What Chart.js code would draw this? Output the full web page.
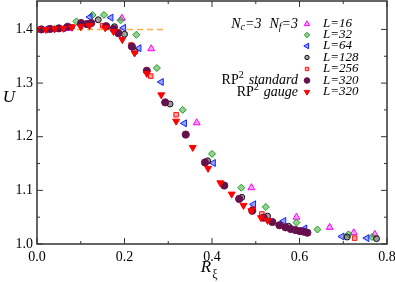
<!DOCTYPE html>
<html>
<head>
<meta charset="utf-8">
<script src="https://cdn.jsdelivr.net/npm/chart.js@4/dist/chart.umd.min.js"></script>
<style>
html,body{margin:0;padding:0;background:#fff;}
</style>
</head>
<body>
<canvas id="c" width="395" height="282"></canvas>
<script>
// values
const l16X = [0.03, 0.07, 0.12, 0.194, 0.261, 0.365, 0.490, 0.593, 0.669, 0.724, 0.772];
const l16U = [1.400, 1.402, 1.410, 1.421, 1.364, 1.226, 1.105, 1.050, 1.031, 1.021, 1.018];

const l32X = [0.04, 0.09, 0.127, 0.153, 0.191, 0.227, 0.274, 0.333, 0.400, 0.467, 0.523, 0.593, 0.641, 0.712, 0.766];
const l32U = [1.401, 1.415, 1.427, 1.427, 1.417, 1.390, 1.328, 1.250, 1.168, 1.105, 1.069, 1.040, 1.027, 1.018, 1.013];

const l64X = [0.02, 0.06, 0.10, 0.121, 0.169, 0.198, 0.233, 0.284, 0.337, 0.403, 0.495, 0.564, 0.612, 0.697, 0.754];
const l64U = [1.400, 1.402, 1.408, 1.423, 1.422, 1.403, 1.365, 1.302, 1.225, 1.151, 1.074, 1.043, 1.029, 1.014, 1.011];

const l128X = [0.01, 0.05, 0.10, 0.140, 0.177, 0.200, 0.224, 0.304, 0.390, 0.468, 0.527, 0.575, 0.709, 0.776];
const l128U = [1.400, 1.402, 1.410, 1.418, 1.405, 1.391, 1.359, 1.261, 1.155, 1.087, 1.052, 1.033, 1.013, 1.010];

const l256X = [0.0, 0.04, 0.08, 0.150, 0.215, 0.260, 0.318, 0.493, 0.514, 0.726];
const l256U = [1.400, 1.401, 1.405, 1.407, 1.371, 1.313, 1.241, 1.065, 1.056, 1.011];

const stdX = [0.01, 0.03, 0.05, 0.07, 0.101, 0.114, 0.124, 0.158, 0.175, 0.186, 0.217, 0.251, 0.293, 0.340, 0.384, 0.428, 0.462, 0.492, 0.518, 0.538, 0.554, 0.568, 0.580, 0.591, 0.601, 0.610, 0.618];
const stdU = [1.400, 1.401, 1.402, 1.405, 1.412, 1.410, 1.412, 1.406, 1.401, 1.393, 1.368, 1.323, 1.264, 1.204, 1.152, 1.109, 1.084, 1.062, 1.049, 1.041, 1.035, 1.031, 1.028, 1.026, 1.024, 1.023, 1.021];

const gaugeX = [0.0, 0.02, 0.04, 0.06, 0.08, 0.10, 0.12, 0.156, 0.175, 0.195, 0.223, 0.251, 0.284, 0.318, 0.356, 0.391, 0.419, 0.445, 0.472, 0.490, 0.512, 0.527];
const gaugeU = [1.400, 1.400, 1.401, 1.402, 1.404, 1.405, 1.407, 1.403, 1.396, 1.381, 1.356, 1.318, 1.278, 1.229, 1.180, 1.141, 1.114, 1.093, 1.072, 1.062, 1.049, 1.044];

const refX = [0, 0.295];
const refU = [1.4, 1.4];

const xTicks = [0, 0.2, 0.4, 0.6, 0.8];
const xMinor = [0.1, 0.3, 0.5, 0.7];
const yTicks = [1.0, 1.1, 1.2, 1.3, 1.4];
const yMinor = [1.05, 1.15, 1.25, 1.35];

const serif = '"Liberation Serif", "DejaVu Serif", serif';

function pts(xs, ys){
	var out = [];
	for(var i=0; i<xs.length; i++){
		out.push({x: xs[i], y: ys[i]});
	}
	return out;
}

const series = [
	{label: 'L=16',  x: l16X,  y: l16U,  style: 'triangle', rot: 0,   r: 4,   fill: 'rgba(255,80,255,0.55)', line: '#ff00ff'},
	{label: 'L=32',  x: l32X,  y: l32U,  style: 'rectRot',  rot: 0,   r: 3.5, fill: 'rgba(60,170,60,0.55)',  line: '#1e9a1e'},
	{label: 'L=64',  x: l64X,  y: l64U,  style: 'triangle', rot: -90, r: 4,   fill: 'rgba(70,90,255,0.55)',  line: '#1020ff'},
	{label: 'L=128', x: l128X, y: l128U, style: 'circle',   rot: 0,   r: 3,   fill: 'rgba(80,80,80,0.55)',   line: '#111111'},
	{label: 'L=256', x: l256X, y: l256U, style: 'rect',     rot: 0,   r: 3.2, fill: 'rgba(255,90,90,0.55)',  line: '#ff1010'},
	{label: 'L=320', x: stdX,  y: stdU,  style: 'circle',   rot: 0,   r: 3.6, fill: '#66104e',               line: '#66104e'},
	{label: 'L=320', x: gaugeX,y: gaugeU,style: 'triangle', rot: 180, r: 4,   fill: '#ff0000',               line: '#ff0000'}
];

const datasets = [{
	type: 'line',
	data: pts(refX, refU),
	borderColor: '#fbb040',
	borderWidth: 1.5,
	borderDash: [6, 4],
	pointRadius: 0,
	fill: false,
	order: 10
}];
series.forEach(function(s, i){
	datasets.push({
		type: 'scatter',
		label: s.label,
		data: pts(s.x, s.y),
		pointStyle: s.style,
		rotation: s.rot,
		pointRadius: s.r,
		pointBackgroundColor: s.fill,
		pointBorderColor: s.line,
		pointBorderWidth: 1,
		order: 7 - i
	});
});

// frame, inward ticks, titles, legend text
const decor = {
	id: 'decor',
	afterDatasetsDraw: function(chart){
		const ctx = chart.ctx;
		const a = chart.chartArea;
		const xs = chart.scales.x, ys = chart.scales.y;
		ctx.save();
		ctx.strokeStyle = '#333';
		ctx.lineWidth = 1.5;
		ctx.strokeRect(a.left, a.top, a.right - a.left, a.bottom - a.top);
		ctx.lineWidth = 1;
		function tickX(v, len){
			var p = xs.getPixelForValue(v);
			ctx.beginPath();
			ctx.moveTo(p, a.bottom); ctx.lineTo(p, a.bottom - len);
			ctx.moveTo(p, a.top); ctx.lineTo(p, a.top + len);
			ctx.stroke();
		}
		function tickY(v, len){
			var p = ys.getPixelForValue(v);
			ctx.beginPath();
			ctx.moveTo(a.left, p); ctx.lineTo(a.left + len, p);
			ctx.moveTo(a.right, p); ctx.lineTo(a.right - len, p);
			ctx.stroke();
		}
		xTicks.forEach(function(v){ tickX(v, 6); });
		xMinor.forEach(function(v){ tickX(v, 3); });
		yTicks.forEach(function(v){ tickY(v, 6); });
		yMinor.forEach(function(v){ tickY(v, 3); });

		// axis titles
		ctx.fillStyle = '#000';
		ctx.textBaseline = 'middle';
		ctx.textAlign = 'center';
		ctx.font = 'italic 17px ' + serif;
		ctx.fillText('U', 9, 98);
		ctx.fillText('R', 206, 268);
		ctx.font = '12px ' + serif;
		ctx.fillText('ξ', 215, 275);

		// legend
		const rowY = [24, 35, 46, 57.5, 69, 80.5, 92];
		const symX = 307;
		ctx.textAlign = 'left';
		series.forEach(function(s, i){
			ctx.fillStyle = s.fill; ctx.strokeStyle = s.line; ctx.lineWidth = 1;
			Chart.helpers.drawPoint(ctx, {
				pointStyle: s.style, rotation: s.rot, radius: s.r - 0.8,
				borderWidth: 1
			}, symX, rowY[i]);
			ctx.fillStyle = '#000';
			ctx.font = 'italic 13px ' + serif;
			ctx.fillText(s.label, 323, rowY[i]);
		});

		// right-aligned labels, ending at x=298
		function rightText(parts, right, y){
			var x = right;
			for(var k = parts.length - 1; k >= 0; k--){
				var p = parts[k];
				ctx.font = p.f;
				var w = ctx.measureText(p.t).width;
				x -= w;
				p.x = x;
				x -= (p.gap || 0);
			}
			parts.forEach(function(p){
				ctx.font = p.f;
				ctx.fillText(p.t, p.x, y + (p.dy || 0));
			});
		}
		ctx.fillStyle = '#000';
		const it = 'italic 14px ' + serif, sub = 'italic 10px ' + serif, rm = '14px ' + serif, sup = '10px ' + serif;
		rightText([
			{t: 'N', f: it}, {t: 'c', f: sub, dy: 3}, {t: '=3', f: it},
			{t: 'N', f: it, gap: 8}, {t: 'f', f: sub, dy: 3}, {t: '=3', f: it}
		], 298, 24);
		rightText([{t: 'RP', f: rm}, {t: '2', f: sup, dy: -5}, {t: 'standard', f: it, gap: 5}], 298, 80.5);
		rightText([{t: 'RP', f: rm}, {t: '2', f: sup, dy: -5}, {t: 'gauge', f: it, gap: 5}], 298, 92);
		ctx.restore();
	}
};

new Chart(document.getElementById('c'), {
	data: {datasets: datasets},
	options: {
		responsive: false,
		animation: false,
		layout: {autoPadding: false, padding: {top: 1, right: 8, left: 0, bottom: 0}},
		plugins: {legend: {display: false}, tooltip: {enabled: false}},
		scales: {
			x: {
				type: 'linear',
				min: 0, max: 0.8,
				grid: {display: false, drawTicks: false},
				border: {display: false},
				afterBuildTicks: function(s){ s.ticks = xTicks.map(function(v){ return {value: v}; }); },
				afterFit: function(s){ s.height = 38; s.paddingLeft = 0; s.paddingRight = 0; },
				ticks: {
					padding: 5,
					maxRotation: 0,
					color: '#000',
					font: {family: serif, size: 14},
					callback: function(v){ return Number(v).toFixed(1); }
				}
			},
			y: {
				type: 'linear',
				min: 1.0, max: 1.453,
				grid: {display: false, drawTicks: false},
				border: {display: false},
				afterBuildTicks: function(s){ s.ticks = yTicks.map(function(v){ return {value: v}; }); },
				afterFit: function(s){ s.width = 37; s.paddingTop = 0; s.paddingBottom = 0; },
				ticks: {
					padding: 4,
					color: '#000',
					font: {family: serif, size: 14},
					callback: function(v){ return Number(v).toFixed(1); }
				}
			}
		}
	},
	plugins: [decor]
});
</script>
</body>
</html>
